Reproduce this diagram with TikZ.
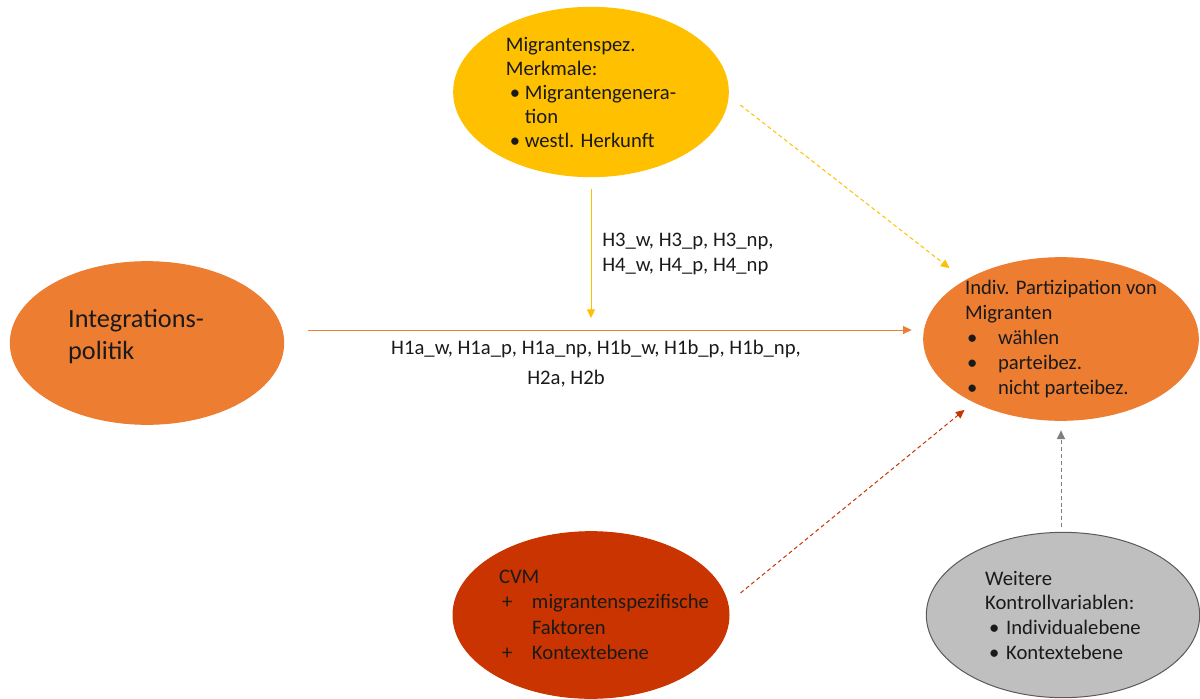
\documentclass[tikz,border=0pt]{standalone}
\usepackage{fontspec}
\setmainfont{Carlito}
\usetikzlibrary{shapes.geometric, arrows.meta}

\definecolor{gelb}{HTML}{FFC000}
\definecolor{orangeton}{HTML}{ED7D31}
\definecolor{rotton}{HTML}{C93400}
\definecolor{grauton}{HTML}{BFBFBF}
\definecolor{graurand}{HTML}{595959}
\definecolor{grauline}{HTML}{7F7F7F}
\definecolor{schrift}{HTML}{1A1A1A}

\newcommand{\pkt}[2]{\makebox[#1][l]{#2}}
\newcommand{\unten}[1]{\rule[-#1]{0pt}{0pt}}

\begin{document}
\begin{tikzpicture}[x=0.75pt, y=-0.75pt,
    every node/.style={inner sep=0pt, align=left, text=schrift, font=\fontsize{15.5pt}{18.5pt}\selectfont},
    kreis/.style={ellipse, draw=#1, fill=#1, line width=0.75pt, inner xsep=-20pt, inner ysep=-12pt},
    pfeil/.style={line width=0.75pt, -{Triangle[length=6.5pt, width=6pt]}},
    strich/.style={pfeil, dash pattern=on 3pt off 2.2pt}]
    \useasboundingbox (0,0) rectangle (1200,699);

    % Ellipsen
    \node[kreis=gelb, minimum width=206pt, minimum height=127pt, font=\fontsize{15.5pt}{18pt}\selectfont] (merkmale) at (591,92)
        {Migrantenspez.\\ Merkmale:\\
         \hspace*{3pt}\pkt{11.25pt}{•}Migrantengenera-\\
         \hspace*{14.25pt}tion\\
         \hspace*{3pt}\pkt{11.25pt}{•}westl. Herkunft};
    \node[kreis=orangeton, minimum width=205pt, minimum height=122pt, font=\fontsize{19.7pt}{24pt}\selectfont] (politik) at (147,343)
        {Integrations-\hspace*{16.5pt}\\ politik\unten{13pt}};
    \node[kreis=orangeton, minimum width=206pt, minimum height=122pt, font=\fontsize{15.5pt}{18.75pt}\selectfont] (partizipation) at (1061,339)
        {Indiv. Partizipation von\\ Migranten\\
         \hspace*{1.5pt}\pkt{23.25pt}{•}wählen\\
         \hspace*{1.5pt}\pkt{23.25pt}{•}parteibez.\\
         \hspace*{1.5pt}\pkt{23.25pt}{•}nicht parteibez.};
    \node[kreis=rotton, minimum width=207pt, minimum height=125pt, font=\fontsize{15.5pt}{19pt}\selectfont] (cvm) at (591,615)
        {\hspace*{19.5pt}CVM\\
         \hspace*{21.75pt}\pkt{22.5pt}{+}migrantenspezifische\\
         \hspace*{44.25pt}Faktoren\\
         \hspace*{21.75pt}\pkt{22.5pt}{+}Kontextebene};
    \node[kreis=grauton, draw=graurand, minimum width=205pt, minimum height=124pt, font=\fontsize{15.5pt}{18.5pt}\selectfont] (kontrolle) at (1063,615)
        {Weitere\\ Kontrollvariablen:\\
         \hspace*{3pt}\pkt{12.75pt}{•}Individualebene\\
         \hspace*{3pt}\pkt{12.75pt}{•}Kontextebene};

    % Beschriftungen
    \node[anchor=west] (hdrei) at (602,254) {H3\_w, H3\_p, H3\_np,\\ H4\_w, H4\_p, H4\_np};
    \node[align=center, font=\fontsize{15.5pt}{22.5pt}\selectfont] (heins) at (596,364)
        {H1a\_w, H1a\_p, H1a\_np, H1b\_w, H1b\_p, H1b\_np,\\ H2a, H2b\hspace*{45pt}};

    % Pfeile
    \coordinate (mitte) at (591,318);
    \draw[pfeil, gelb] ([yshift=-8.5pt]merkmale.south) -- (mitte);
    \draw[pfeil, orangeton] ([shift={(23.5,-13)}]politik.east) -- ([shift={(-11.5,-9)}]partizipation.west);
    \draw[strich, gelb] ([shift={(11.5,13)}]merkmale.east) -- ([shift={(-14,-13)}]partizipation.north west);
    \draw[strich, rotton] ([shift={(11,-22)}]cvm.east) -- ([shift={(1,13)}]partizipation.south west);
    \draw[strich, grauline] ([shift={(-2,-4.5)}]kontrolle.north) -- ([shift={(0,9.5)}]partizipation.south);
\end{tikzpicture}
\end{document}
